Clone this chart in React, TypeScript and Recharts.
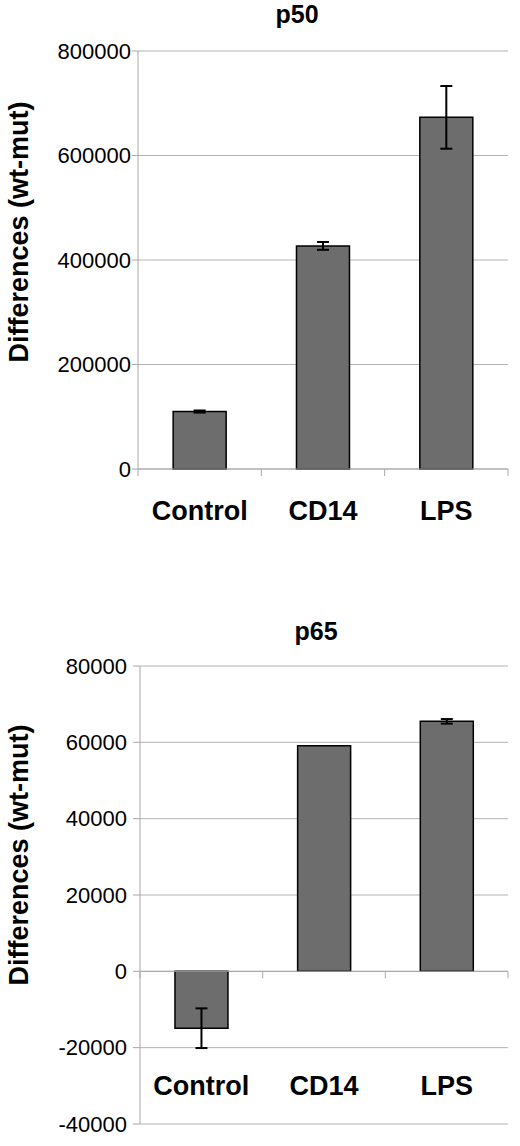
import React from 'react';
import { BarChart, Bar, XAxis, YAxis, CartesianGrid, ErrorBar, ReferenceLine } from 'recharts';

const categories = ['Control', 'CD14', 'LPS'];

const p50Values = [110000, 427000, 673000];
const p50Errors = [2000, 7500, 60000];
const p50Ticks = [0, 200000, 400000, 600000, 800000];

const p65Values = [-14900, 59100, 65500];
const p65Errors = [5200, 0, 600];
const p65Ticks = [-40000, -20000, 0, 20000, 40000, 60000, 80000];

const p50Data = categories.map((name, i) => ({ name, value: p50Values[i], err: p50Errors[i] }));
const p65Data = categories.map((name, i) => ({ name, value: p65Values[i], err: p65Errors[i] }));

const FONT = '"Liberation Sans", Arial, sans-serif';
const GRID = '#b4b4b4';
const AXIS = '#a8a8a8';
const BAR = '#6d6d6d';

// axis line at zero with tick marks on the category boundaries
const ZeroAxis = (props: any) => {
  const { x1, x2, y1 } = props;
  const n = categories.length;
  const step = (x2 - x1) / n;
  return (
    <g>
      <line x1={x1} x2={x2} y1={y1} y2={y1} stroke={AXIS} strokeWidth={1} />
      {Array.from({ length: n + 1 }).map((_, i) => (
        <line key={i} x1={x1 + i * step} x2={x1 + i * step} y1={y1} y2={y1 + 7} stroke={AXIS} strokeWidth={1} />
      ))}
    </g>
  );
};

const CategoryTick = ({ x, y, payload, shift }: any) => (
  <text x={x} y={y + shift} textAnchor="middle" fontFamily={FONT} fontWeight="bold" fontSize={27} fill="#000">
    {payload.value}
  </text>
);

type PanelProps = {
  data: { name: string; value: number; err: number }[];
  ticks: number[];
  top: number;
  height: number;
  marginTop: number;
  marginBottom: number;
  axisWidth: number;
  tickSize: number;
  tickMargin: number;
  labelShift: number;
};

const Panel: React.FC<PanelProps> = ({ data, ticks, top, height, marginTop, marginBottom, axisWidth, tickSize, tickMargin, labelShift }) => (
  <div style={{ position: 'absolute', left: 0, top }}>
    <BarChart
      width={520}
      height={height}
      data={data}
      margin={{ top: marginTop, right: 12, left: 0, bottom: marginBottom }}
      barCategoryGap="28.5%"
    >
      <CartesianGrid vertical={false} stroke={GRID} />
      <XAxis
        dataKey="name"
        axisLine={false}
        tickLine={false}
        tickSize={0}
        tickMargin={0}
        height={20}
        interval={0}
        tick={(p: any) => <CategoryTick {...p} shift={labelShift} />}
      />
      <YAxis
        domain={[ticks[0], ticks[ticks.length - 1]]}
        ticks={ticks}
        width={axisWidth}
        tickSize={tickSize}
        tickMargin={tickMargin}
        stroke={AXIS}
        tickLine={{ stroke: AXIS }}
        axisLine={{ stroke: AXIS }}
        tick={{ fill: '#000', fontSize: 22, fontFamily: FONT }}
        interval={0}
      />
      <ReferenceLine y={0} shape={ZeroAxis} />
      <Bar dataKey="value" fill={BAR} stroke="#000" strokeWidth={1.5} isAnimationActive={false}>
        <ErrorBar dataKey="err" direction="y" width={6} stroke="#000" strokeWidth={2} isAnimationActive={false} />
      </Bar>
    </BarChart>
  </div>
);

export default function App() {
  return (
    <div style={{ position: 'absolute', left: 0, top: 0, width: 520, height: 1146, background: '#fff' }}>
      <Panel
        data={p50Data}
        ticks={p50Ticks}
        top={0}
        height={560}
        marginTop={51}
        marginBottom={71}
        axisWidth={138}
        tickSize={6}
        tickMargin={1}
        labelShift={51}
      />
      <Panel
        data={p65Data}
        ticks={p65Ticks}
        top={580}
        height={566}
        marginTop={86}
        marginBottom={2}
        axisWidth={140}
        tickSize={7}
        tickMargin={6}
        labelShift={-29}
      />
      <svg width={520} height={1146} style={{ position: 'absolute', left: 0, top: 0, pointerEvents: 'none' }}>
        <g fontFamily={FONT} fontWeight="bold" fill="#000">
          <text x={297} y={23} textAnchor="middle" fontSize={25}>p50</text>
          <text x={316} y={640} textAnchor="middle" fontSize={25}>p65</text>
          <text transform="translate(28,232) rotate(-90)" textAnchor="middle" fontSize={27}>Differences (wt-mut)</text>
          <text transform="translate(28,855) rotate(-90)" textAnchor="middle" fontSize={27}>Differences (wt-mut)</text>
        </g>
      </svg>
    </div>
  );
}
